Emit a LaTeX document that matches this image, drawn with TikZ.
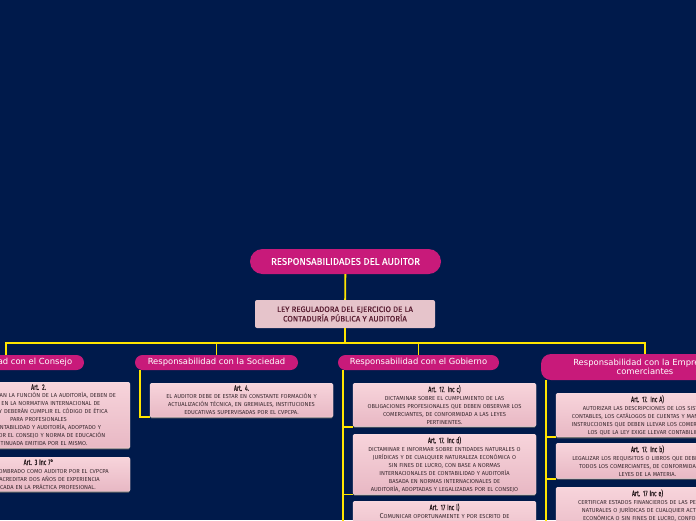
\documentclass[tikz,border=0pt]{standalone}
\usepackage{fontspec}
\setmainfont{Fira Sans}
\newfontfamily\pillfont{DejaVu Sans}
\newfontfamily\artfont[FakeStretch=0.65,FakeBold=0.3]{Fira Sans}
\newfontfamily\leyfont[FakeBold=0.4]{Fira Sans}
\newfontfamily\rootfont[FakeBold=0.3]{Fira Sans}
\usetikzlibrary{shadows}
\definecolor{navy}{HTML}{001A4B}
\definecolor{rosa}{HTML}{C81A7A}
\definecolor{amarillo}{HTML}{FFE500}
\definecolor{boxtop}{HTML}{F7D4DB}
\definecolor{boxbot}{HTML}{E8B8C4}
\definecolor{boxtext}{HTML}{3A2A30}
\definecolor{arttitle}{HTML}{221619}
\definecolor{leyfill}{HTML}{E6C4CB}
\definecolor{leytext}{HTML}{5B1F33}
\newcommand{\arttit}[1]{{\artfont\fontsize{8}{8.5}\selectfont\color{arttitle}#1}}

\begin{document}
\begin{tikzpicture}[x=1pt,y=-1pt,
  pill/.style={fill=rosa,text=white,rounded corners=7.5pt,minimum height=15pt,inner sep=0pt,
    font=\pillfont\fontsize{8.4}{9.5}\selectfont},
  artbox/.style={anchor=north,top color=boxtop,bottom color=boxbot,draw=boxtop!70!white,
    rounded corners=1.5pt,minimum width=183pt,text width=181pt,align=center,inner xsep=1pt,inner ysep=2.2pt,
    drop shadow={shadow xshift=0pt,shadow yshift=-1.3pt,fill=black!60,opacity=1},
    text=boxtext,font=\fontsize{5.75}{8}\selectfont},
  link/.style={draw=amarillo,line width=1.8pt}]
  \useasboundingbox (0,0) rectangle (696,520);
  \clip (0,0) rectangle (696,520);
  \fill[navy] (0,0) rectangle (696,520);

  % raiz
  \node[fill=rosa,text=white,rounded corners=12.5pt,minimum width=191pt,minimum height=25pt,inner sep=0pt,
    font=\rootfont\fontsize{9.6}{11}\selectfont] (root) at (345.5,261.5) {RESPONSABILIDADES DEL AUDITOR};
  \node[fill=leyfill,text=leytext,rounded corners=2pt,minimum width=180pt,minimum height=28pt,inner sep=0pt,
    align=center,font=\leyfont\fontsize{7.9}{9.5}\selectfont] (ley) at (345,314)
    {LEY REGULADORA DEL EJERCICIO DE LA\\CONTADURÍA PÚBLICA Y AUDITORÍA};

  % responsabilidades
  \node[pill,minimum width=156pt] (consejo) at (6,362.5) {Responsabilidad con el Consejo};
  \node[pill,minimum width=163pt] (sociedad) at (216.5,362.5) {Responsabilidad con la Sociedad};
  \node[pill,minimum width=161pt] (gobierno) at (418.5,362.5) {Responsabilidad con el Gobierno};
  \node[pill,minimum width=208pt,minimum height=26pt,rounded corners=10pt,align=center] (empresa) at (645,367)
    {Responsabilidad con la Empresa y\\comerciantes};

  % articulos
  \node[artbox] (c1) at (38.5,382) {\arttit{Art. 2.}\\
    LOS QUE EJERZAN LA FUNCIÓN DE LA AUDITORÍA, DEBEN DE\\
    BASARSE EN LA NORMATIVA INTERNACIONAL DE\\
    AUDITORÍA Y DEBERÁN CUMPLIR EL CÓDIGO DE ÉTICA\\
    PARA PROFESIONALES\\
    DE LA CONTABILIDAD Y AUDITORÍA, ADOPTADO Y\\
    EMITIDO POR EL CONSEJO Y NORMA DE EDUCACIÓN\\
    CONTINUADA EMITIDA POR EL MISMO.};
  \node[artbox] (c2) at (38.5,457) {\arttit{Art. 3 Inc 7°}\\
    PARA SER NOMBRADO COMO AUDITOR POR EL CVPCPA\\
    DEBERÁ ACREDITAR DOS AÑOS DE EXPERIENCIA\\
    CERTIFICADA EN LA PRÁCTICA PROFESIONAL.};
  \node[artbox] (s1) at (241.5,383) {\arttit{Art. 4.}\\
    EL AUDITOR DEBE DE ESTAR EN CONSTANTE FORMACIÓN Y\\
    ACTUALIZACIÓN TÉCNICA, EN GREMIALES, INSTITUCIONES\\
    EDUCATIVAS SUPERVISADAS POR EL CVPCPA.};
  \node[artbox] (g1) at (444.5,383) {\arttit{Art. 17. Inc c)}\\
    DICTAMINAR SOBRE EL CUMPLIMIENTO DE LAS\\
    OBLIGACIONES PROFESIONALES QUE DEBEN OBSERVAR LOS\\
    COMERCIANTES, DE CONFORMIDAD A LAS LEYES\\
    PERTINENTES.};
  \node[artbox] (g2) at (444.5,434) {\arttit{Art. 17. Inc d)}\\
    DICTAMINAR E INFORMAR SOBRE ENTIDADES NATURALES O\\
    JURÍDICAS Y DE CUALQUIER NATURALEZA ECONÓMICA O\\
    SIN FINES DE LUCRO, CON BASE A NORMAS\\
    INTERNACIONALES DE CONTABILIDAD Y AUDITORÍA\\
    BASADA EN NORMAS INTERNACIONALES DE\\
    AUDITORÍA, ADOPTADAS Y LEGALIZADAS POR EL CONSEJO};
  \node[artbox] (g3) at (444.5,501) {\arttit{Art. 17 Inc l)}\\
    {\fontsize{7.2}{8}\selectfont C}OMUNICAR OPORTUNAMENTE Y POR ESCRITO DE\\
    \rule{0pt}{24pt}};
  \node[artbox] (e1) at (647.5,393) {\arttit{Art. 17. Inc A)}\\
    AUTORIZAR LAS DESCRIPCIONES DE LOS SISTEMAS\\
    CONTABLES, LOS CATÁLOGOS DE CUENTAS Y MANUALES DE\\
    INSTRUCCIONES QUE DEBEN LLEVAR LOS COMERCIANTES Y\\
    LOS QUE LA LEY EXIGE LLEVAR CONTABILIDAD.};
  \node[artbox] (e2) at (647.5,443) {\arttit{Art. 17. Inc b)}\\
    LEGALIZAR LOS REQUISITOS O LIBROS QUE DEBEN LLEVAR\\
    TODOS LOS COMERCIANTES, DE CONFORMIDAD A LAS\\
    LEYES DE LA MATERIA.};
  \node[artbox] (e3) at (647.5,487) {\arttit{Art. 17 Inc e)}\\
    CERTIFICAR ESTADOS FINANCIEROS DE LAS PERSONAS\\
    NATURALES O JURÍDICAS DE CUALQUIER ACTIVIDAD\\
    ECONÓMICA O SIN FINES DE LUCRO, CONFORME A\\
    \rule{0pt}{16pt}};

  % conectores
  \draw[link] (root) -- (ley);
  \draw[link] (ley.south) -- ++(0,15) coordinate (bus);
  \foreach \n in {consejo,sociedad,gobierno,empresa} {\draw[link] (bus) -| (\n.north);}
  \foreach \b in {c1,c2} {\draw[link] ([xshift=5pt]consejo.south west) |- (\b.south west);}
  \draw[link] ([xshift=5pt]sociedad.south west) |- (s1.south west);
  \foreach \b in {g1,g2,g3} {\draw[link] ([xshift=5pt]gobierno.south west) |- (\b.south west);}
  \foreach \b in {e1,e2,e3} {\draw[link] ([xshift=5pt]empresa.south west) |- (\b.south west);}
\end{tikzpicture}
\end{document}
